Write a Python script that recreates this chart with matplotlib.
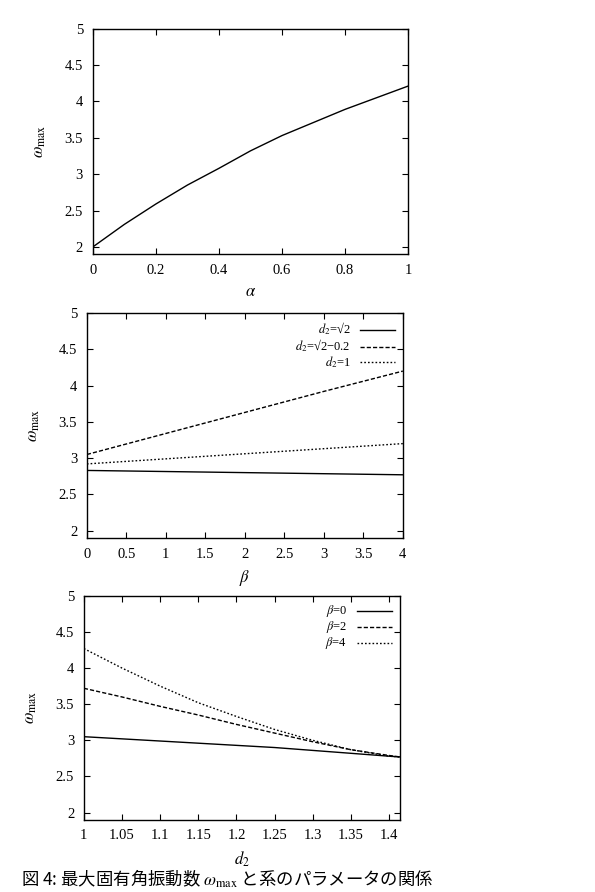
import numpy as np
import matplotlib
matplotlib.use("Agg")
import matplotlib.pyplot as plt

plt.rcParams['font.family'] = ['Liberation Serif', 'Noto Sans CJK JP', 'DejaVu Sans']
plt.rcParams['mathtext.fontset'] = 'stix'

# Panel 1: omega_max vs alpha
alpha = [0.0, 0.1, 0.2, 0.3, 0.4, 0.5, 0.6, 0.7, 0.8, 0.9, 1.0]
w_alpha = [2.0, 2.31, 2.59, 2.85, 3.08, 3.32, 3.53, 3.71, 3.89, 4.05, 4.21]

# Panel 2: omega_max vs beta
beta = [0, 1, 2, 3, 4]
w_beta_sqrt2 = [2.83, 2.815, 2.80, 2.785, 2.77]
w_beta_sqrt2m = [3.05, 3.34, 3.63, 3.92, 4.20]
w_beta_one = [2.92, 2.99, 3.06, 3.13, 3.20]
labels_beta = ['$d_2$=√2', '$d_2$=√2−0.2', '$d_2$=1']

# Panel 3: omega_max vs d2
d2 = [1.0, 1.05, 1.1, 1.15, 1.2, 1.25, 1.3, 1.35, 1.4, 1.4142]
w_d2_b0 = [3.05, 3.02, 2.99, 2.96, 2.93, 2.90, 2.86, 2.82, 2.78, 2.77]
w_d2_b2 = [3.72, 3.60, 3.47, 3.35, 3.22, 3.10, 2.98, 2.87, 2.79, 2.77]
w_d2_b4 = [4.27, 4.00, 3.75, 3.52, 3.33, 3.15, 3.00, 2.87, 2.78, 2.77]
labels_d2 = [r'$\beta$=0', r'$\beta$=2', r'$\beta$=4']

yticks = [2, 2.5, 3, 3.5, 4, 4.5, 5]
yticklabels = ['2', '2.5', '3', '3.5', '4', '4.5', '5']

fig = plt.figure(figsize=(5.95, 8.92), dpi=100)

def style(ax, xlim, xticks, xticklabels, xlabel):
    ax.set_xlim(*xlim)
    ax.set_ylim(1.9, 5)
    ax.set_xticks(xticks)
    ax.set_xticklabels(xticklabels)
    ax.set_yticks(yticks)
    ax.set_yticklabels(yticklabels)
    ax.tick_params(direction='in', top=True, right=True, length=4, width=0.8,
                   labelsize=10.5, pad=7)
    for s in ax.spines.values():
        s.set_linewidth(1.0)
    ax.set_xlabel(xlabel, fontsize=12, labelpad=5)
    ax.set_ylabel(r'$\omega_{\mathrm{max}}$', fontsize=12, labelpad=12)

dash = (0, (3, 1.5))
dot = (0, (1.2, 1.5))

def legend(ax):
    leg = ax.legend(loc='upper right', frameon=False, markerfirst=False, alignment='right',
                    fontsize=9, handlelength=2.8, handleheight=0.4, labelspacing=0.0,
                    borderaxespad=0.3, borderpad=0.3, handletextpad=0.8)
    return leg

ax1 = fig.add_axes([0.156, 0.715, 0.530, 0.253])
ax1.plot(alpha, w_alpha, color='black', lw=1.0)
style(ax1, (0, 1), [0, 0.2, 0.4, 0.6, 0.8, 1], ['0', '0.2', '0.4', '0.6', '0.8', '1'], r'$\alpha$')

ax2 = fig.add_axes([0.146, 0.397, 0.531, 0.252])
ax2.plot(beta, w_beta_sqrt2, color='black', lw=1.0, label=labels_beta[0])
ax2.plot(beta, w_beta_sqrt2m, color='black', lw=1.0, ls=dash, label=labels_beta[1])
ax2.plot(beta, w_beta_one, color='black', lw=1.0, ls=dot, label=labels_beta[2])
style(ax2, (0, 4), [0, 0.5, 1, 1.5, 2, 2.5, 3, 3.5, 4],
      ['0', '0.5', '1', '1.5', '2', '2.5', '3', '3.5', '4'], r'$\beta$')
legend(ax2)

ax3 = fig.add_axes([0.141, 0.081, 0.531, 0.251])
ax3.plot(d2, w_d2_b0, color='black', lw=1.0, label=labels_d2[0])
ax3.plot(d2, w_d2_b2, color='black', lw=1.0, ls=dash, label=labels_d2[1])
ax3.plot(d2, w_d2_b4, color='black', lw=1.0, ls=dot, label=labels_d2[2])
style(ax3, (1, 1.4142), [1, 1.05, 1.1, 1.15, 1.2, 1.25, 1.3, 1.35, 1.4],
      ['1', '1.05', '1.1', '1.15', '1.2', '1.25', '1.3', '1.35', '1.4'], r'$d_2$')
legend(ax3)

fig.text(0.035, 0.002, '図 4: 最大固有角振動数 $\\omega_{\\mathrm{max}}$ と系のパラメータの関係',
         fontsize=12.5, ha='left', va='bottom',
         family=['Noto Sans CJK JP', 'DejaVu Sans'])

fig.savefig('out.png', dpi=100)
